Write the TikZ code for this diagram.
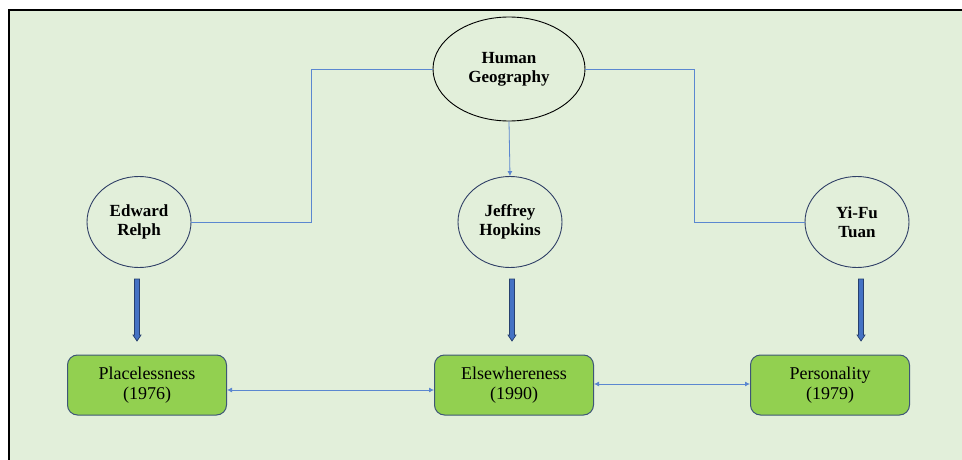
\documentclass[tikz,border=0pt]{standalone}
\usepackage{fontspec}
\setmainfont{Liberation Serif}
\usetikzlibrary{shapes.geometric,arrows.meta,calc}
\definecolor{bgc}{HTML}{E2EFDA}
\definecolor{boxfill}{HTML}{92D050}
\definecolor{boxline}{HTML}{3E5677}
\definecolor{linkc}{HTML}{5B87D0}
\definecolor{ellc}{HTML}{2F3F66}
\definecolor{fatfill}{HTML}{4472C4}
\definecolor{fatline}{HTML}{263F6E}
\tikzset{
  person/.style={ellipse, draw=ellc, line width=0.9pt, font=\bfseries\fontsize{17}{19.5}\selectfont, align=center, inner sep=0pt, minimum width=104pt, minimum height=91pt},
  topic/.style={ellipse, draw=black, line width=0.9pt, font=\bfseries\fontsize{17}{19.5}\selectfont, align=center, inner sep=0pt, minimum width=152pt, minimum height=104pt},
  work/.style={rectangle, rounded corners=10pt, draw=boxline, line width=1pt, fill=boxfill, font=\fontsize{18}{20}\selectfont, align=center, minimum width=159pt, minimum height=60pt, inner sep=0pt},
  link/.style={draw=linkc, line width=0.8pt},
  fat/.style={draw=fatline, fill=fatfill, line width=0.7pt, line join=miter}
}
\newcommand\fatarrow[2]{%
  \path[fat] ($(#1)+(-2.5,0)$) -- ($(#2)+(-2.5,-6)$) -- ($(#2)+(-4,-6)$) -- (#2)
    -- ($(#2)+(4,-6)$) -- ($(#2)+(2.5,-6)$) -- ($(#1)+(2.5,0)$) -- cycle;}
\begin{document}
\begin{tikzpicture}[x=1pt,y=-1pt]
\useasboundingbox (0,0) rectangle (962,460);
\fill[white] (0,0) rectangle (962,460);
\fill[bgc] (9,10) rectangle (962,460);
\draw[black, line width=2pt] (9,460) -- (9,10) -- (962,10);

\node[topic] (hg) at (509,69) {\raisebox{-4pt}{\begin{tabular}{@{}c@{}}Human\\Geography\end{tabular}}};
\node[person] (er) at (139,222) {Edward\\Relph};
\node[person] (jh) at (510,222) {Jeffrey\\Hopkins};
\node[person] (yt) at (857,222) {Yi-Fu\\Tuan};

\node[work] (pl) at (147,385) {Placelessness\\(1976)};
\node[work] (el) at (514,385) {Elsewhereness\\(1990)};
\node[work] (pe) at (830,385) {Personality\\(1979)};

\coordinate (l1) at (311,222);
\coordinate (r1) at (694,222);
\draw[link] (hg.west) -| (l1) -- (er.east);
\draw[link] (hg.east) -| (r1) -- (yt.west);
\draw[link, -{Latex[length=5pt,width=5pt]}] (hg.south) -- (jh.north);

\coordinate (a1) at (137,279); \coordinate (a2) at (137,341);
\coordinate (b1) at (512,279); \coordinate (b2) at (512,341);
\coordinate (c1) at (861,279); \coordinate (c2) at (861,341);
\fatarrow{a1}{a2}
\fatarrow{b1}{b2}
\fatarrow{c1}{c2}

\draw[link, {Latex[length=5pt,width=5pt]}-{Latex[length=5pt,width=5pt]}]
  ($(pl.east)+(0,5)$) -- ($(el.west)+(0,5)$);
\draw[link, {Latex[length=5pt,width=5pt]}-{Latex[length=5pt,width=5pt]}]
  ($(el.east)+(0,-1)$) -- ($(pe.west)+(0,-1)$);
\end{tikzpicture}
\end{document}
